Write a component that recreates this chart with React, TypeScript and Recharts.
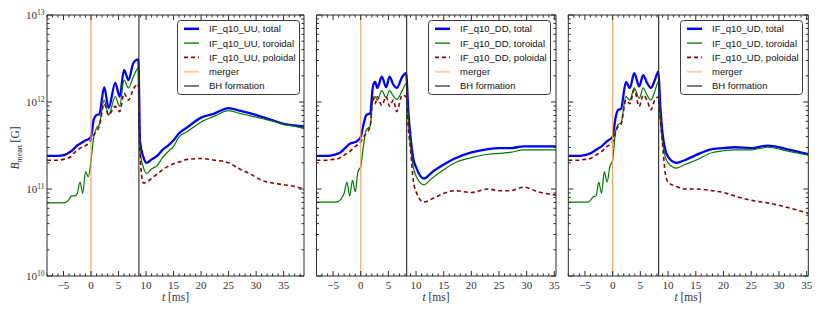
import React from 'react';
import { LineChart, Line, XAxis, YAxis, ReferenceLine, Legend } from 'recharts';

// ---------------- data (B_mean in Gauss, t in ms) ----------------
const uuT = [-8, -6, -5, -4.5, -4, -3.5, -3, -2.5, -2, -1.5, -1, -0.5, 0, 0.5, 1, 1.5, 2.4, 3.2, 4.4, 5.2, 6, 6.8, 7.7, 8.6, 8.9, 9.5, 10.1, 11, 12, 13, 14, 15, 16, 17.5, 20, 22.5, 25, 27, 29, 31, 33, 35, 37, 38.7];
const uuTotal = [2.4e11, 2.4e11, 2.45e11, 2.51e11, 2.63e11, 2.75e11, 2.95e11, 3.16e11, 3.31e11, 3.47e11, 3.63e11, 3.72e11, 3.98e11, 6.31e11, 7.08e11, 7.24e11, 1.48e12, 8.51e11, 1.66e12, 1.15e12, 2.34e12, 1.78e12, 2.82e12, 3.09e12, 3.55e11, 2.34e11, 2.0e11, 2.19e11, 2.4e11, 2.82e11, 3.16e11, 3.63e11, 4.37e11, 5.13e11, 6.61e11, 7.41e11, 8.51e11, 7.94e11, 7.41e11, 6.76e11, 6.17e11, 5.62e11, 5.37e11, 5.25e11];
const uuToroidal = [6.92e10, 6.92e10, 6.92e10, 7.08e10, 7.59e10, 8.32e10, 8.32e10, 8.91e10, 1.2e11, 8.91e10, 1.58e11, 1.38e11, 2.14e11, 3.98e11, 5.01e11, 5.5e11, 1.05e12, 7.08e11, 1.15e12, 8.91e11, 1.78e12, 1.45e12, 1.95e12, 2.45e12, 2.82e11, 1.78e11, 1.51e11, 1.7e11, 1.86e11, 2.29e11, 2.69e11, 3.09e11, 3.98e11, 4.57e11, 5.89e11, 6.92e11, 7.94e11, 7.41e11, 6.92e11, 6.46e11, 6.03e11, 5.5e11, 5.25e11, 5.01e11];
const uuPoloidal = [2.14e11, 2.14e11, 2.19e11, 2.24e11, 2.29e11, 2.4e11, 2.63e11, 2.75e11, 2.95e11, 3.02e11, 3.16e11, 3.31e11, 3.63e11, 4.17e11, 4.57e11, 5.25e11, 9.55e11, 7.08e11, 8.91e11, 7.76e11, 1.26e12, 1.05e12, 1.41e12, 1.62e12, 2.51e11, 1.17e11, 1.2e11, 1.32e11, 1.48e11, 1.66e11, 1.82e11, 1.95e11, 2.04e11, 2.19e11, 2.24e11, 2.14e11, 2.0e11, 1.7e11, 1.48e11, 1.26e11, 1.17e11, 1.12e11, 1.07e11, 1.0e11];

const ddT = [-8, -6, -5, -4.5, -4, -3.5, -3, -2.5, -2, -1.5, -1, -0.5, 0, 0.5, 1, 1.7, 2.2, 2.6, 3.0, 3.8, 4.6, 5.2, 5.9, 6.5, 7.5, 8.2, 8.6, 9, 9.5, 10, 11.4, 13, 15, 17, 20, 23, 25, 27, 29.5, 32, 35.3];
const ddTotal = [2.4e11, 2.4e11, 2.45e11, 2.51e11, 2.57e11, 2.69e11, 2.88e11, 3.09e11, 3.31e11, 3.39e11, 3.47e11, 3.63e11, 3.98e11, 5.5e11, 7.08e11, 7.41e11, 1.51e12, 1.7e12, 1.45e12, 1.95e12, 1.48e12, 1.95e12, 1.58e12, 1.45e12, 1.95e12, 2.14e12, 7.94e11, 3.98e11, 2.24e11, 1.78e11, 1.32e11, 1.58e11, 1.91e11, 2.24e11, 2.63e11, 2.88e11, 2.95e11, 2.95e11, 3.09e11, 3.09e11, 3.09e11];
const ddToroidal = [7.08e10, 7.08e10, 7.08e10, 7.08e10, 7.24e10, 7.76e10, 8.91e10, 1.2e11, 8.32e10, 1.26e11, 9.33e10, 1.58e11, 1.82e11, 3.16e11, 4.79e11, 5.25e11, 1.05e12, 1.15e12, 1.05e12, 1.35e12, 1.12e12, 1.35e12, 1.17e12, 1.07e12, 1.35e12, 1.62e12, 6.31e11, 3.16e11, 1.78e11, 1.41e11, 1.12e11, 1.35e11, 1.66e11, 2.0e11, 2.29e11, 2.51e11, 2.57e11, 2.63e11, 2.82e11, 2.82e11, 2.82e11];
const ddPoloidal = [2.14e11, 2.14e11, 2.19e11, 2.19e11, 2.24e11, 2.34e11, 2.45e11, 2.57e11, 2.69e11, 2.88e11, 3.09e11, 3.24e11, 3.47e11, 3.98e11, 4.37e11, 5.25e11, 1.15e12, 9.55e11, 1.15e12, 9.12e11, 1.15e12, 8.91e11, 1.05e12, 7.76e11, 1.2e12, 1.15e12, 5.01e11, 2.82e11, 1.26e11, 9.33e10, 7.08e10, 7.76e10, 8.91e10, 9.55e10, 9.12e10, 1.0e11, 9.55e10, 9.55e10, 1.05e11, 9.33e10, 8.51e10];

const udT = [-8, -6, -5, -4.5, -4, -3.5, -3, -2.5, -2, -1.5, -1, -0.5, 0, 0.5, 1, 1.5, 2.4, 3.1, 3.9, 4.8, 5.5, 6.2, 6.9, 7.6, 8.25, 8.6, 9, 9.5, 10, 11.5, 13, 15, 18, 20, 22, 25, 28, 32, 35.3];
const udTotal = [2.4e11, 2.4e11, 2.45e11, 2.51e11, 2.57e11, 2.69e11, 2.82e11, 2.95e11, 3.09e11, 3.31e11, 3.55e11, 3.72e11, 3.98e11, 6.46e11, 8.13e11, 8.32e11, 1.7e12, 1.45e12, 2.14e12, 1.51e12, 2.04e12, 1.66e12, 1.45e12, 1.78e12, 2.24e12, 8.91e11, 4.37e11, 2.82e11, 2.34e11, 2.0e11, 2.14e11, 2.45e11, 2.88e11, 2.95e11, 3.02e11, 2.95e11, 3.16e11, 2.82e11, 2.51e11];
const udToroidal = [7.08e10, 7.08e10, 7.08e10, 7.08e10, 7.41e10, 8.13e10, 8.32e10, 1.2e11, 8.91e10, 1.58e11, 1.2e11, 1.82e11, 2.14e11, 4.47e11, 5.5e11, 5.75e11, 1.15e12, 1.05e12, 1.45e12, 1.1e12, 1.45e12, 1.2e12, 1.05e12, 1.32e12, 1.7e12, 6.31e11, 3.55e11, 2.34e11, 2.0e11, 1.74e11, 1.91e11, 2.14e11, 2.63e11, 2.75e11, 2.82e11, 2.82e11, 3.02e11, 2.69e11, 2.45e11];
const udPoloidal = [2.14e11, 2.14e11, 2.19e11, 2.19e11, 2.24e11, 2.34e11, 2.45e11, 2.57e11, 2.69e11, 2.88e11, 3.09e11, 3.24e11, 3.47e11, 4.37e11, 5.25e11, 5.5e11, 1.05e12, 9.55e11, 1.38e12, 8.91e11, 1.2e12, 1.05e12, 8.13e11, 1.05e12, 1.15e12, 6.31e11, 3.31e11, 1.51e11, 1.2e11, 1.07e11, 1.0e11, 1.0e11, 9.55e10, 9.12e10, 8.32e10, 7.41e10, 6.92e10, 6.03e10, 5.25e10];

const MERGER_T = 0;
const BH_T_UU = 8.7;
const BH_T_DD = 8.3;
const BH_T_UD = 8.3;

const X_TICKS_UU = [-8, -7, -6, -5, -4, -3, -2, -1, 0, 1, 2, 3, 4, 5, 6, 7, 8, 9, 10, 11, 12, 13, 14, 15, 16, 17, 18, 19, 20, 21, 22, 23, 24, 25, 26, 27, 28, 29, 30, 31, 32, 33, 34, 35, 36, 37, 38];
const X_TICKS_35 = [-8, -7, -6, -5, -4, -3, -2, -1, 0, 1, 2, 3, 4, 5, 6, 7, 8, 9, 10, 11, 12, 13, 14, 15, 16, 17, 18, 19, 20, 21, 22, 23, 24, 25, 26, 27, 28, 29, 30, 31, 32, 33, 34, 35];
const Y_TICKS = [1e10, 2e10, 3e10, 4e10, 5e10, 6e10, 7e10, 8e10, 9e10, 1e11, 2e11, 3e11, 4e11, 5e11, 6e11, 7e11, 8e11, 9e11, 1e12, 2e12, 3e12, 4e12, 5e12, 6e12, 7e12, 8e12, 9e12, 1e13];
const Y_MAJOR = [1e10, 1e11, 1e12, 1e13];

const RUN_NAMES = ['IF_q10_UU', 'IF_q10_DD', 'IF_q10_UD'];
const COMPONENT_LABELS = ['total', 'toroidal', 'poloidal'];
const EVENT_LABELS = ['merger', 'BH formation'];

// ---------------- styling ----------------
const AX = '#2a2a2a';
const TXT = '#333';
const SERIF = "'Liberation Serif', 'DejaVu Serif', serif";
const SANS = "'Liberation Sans', Arial, sans-serif";
const BLUE = '#0000ff';
const GREEN = '#007a00';
const RED = '#8b0000';
const ORANGE_LINE = '#f5a05c';
const ORANGE_LEG = '#ffcfa6';
const BH = '#262626';

const fmtX = (v: number) => (v < 0 ? '\u2212' + Math.abs(v) : String(v));
const isMajorY = (v: number) => Y_MAJOR.indexOf(v) >= 0;

function XTickBottom(p: any) {
  const { x, y, payload } = p;
  const v = payload.value;
  const major = v % 5 === 0;
  return (
    <g>
      <line x1={x} x2={x} y1={y} y2={y - (major ? 5 : 2.5)} stroke={AX} strokeWidth={1} />
      {major ? (
        <text x={x} y={y + 12.5} textAnchor="middle" fontFamily={SERIF} fontSize={11} fill={TXT}>
          {fmtX(v)}
        </text>
      ) : null}
    </g>
  );
}

function XTickTop(p: any) {
  const { x, y, payload } = p;
  const major = payload.value % 5 === 0;
  return <line x1={x} x2={x} y1={y} y2={y + (major ? 5 : 2.5)} stroke={AX} strokeWidth={1} />;
}

function makeYTickLeft(showLabels: boolean) {
  return function YTickLeft(p: any) {
    const { x, y, payload } = p;
    const v = payload.value;
    const major = isMajorY(v);
    const e = Math.round(Math.log10(v));
    return (
      <g>
        <line x1={x} x2={x + (major ? 5 : 2.5)} y1={y} y2={y} stroke={AX} strokeWidth={1} />
        {showLabels && major ? (
          <text x={x - 2.5} y={y + 4} textAnchor="end" fontFamily={SERIF} fontSize={11} fill={TXT}>
            10
            <tspan dy={-4.5} fontSize={7.5}>
              {e}
            </tspan>
          </text>
        ) : null}
      </g>
    );
  };
}

function YTickRight(p: any) {
  const { x, y, payload } = p;
  const major = isMajorY(payload.value);
  return <line x1={x} x2={x - (major ? 5 : 2.5)} y1={y} y2={y} stroke={AX} strokeWidth={1} />;
}

function LegendBox({ run }: { run: string }) {
  const rows = [
    { label: `${run}, ${COMPONENT_LABELS[0]}`, color: BLUE, w: 2.5, dash: undefined as string | undefined },
    { label: `${run}, ${COMPONENT_LABELS[1]}`, color: GREEN, w: 1.3, dash: undefined },
    { label: `${run}, ${COMPONENT_LABELS[2]}`, color: RED, w: 1.6, dash: '4 3' },
    { label: EVENT_LABELS[0], color: ORANGE_LEG, w: 2, dash: undefined },
    { label: EVENT_LABELS[1], color: BH, w: 1.2, dash: undefined },
  ];
  return (
    <svg width={124} height={76} style={{ display: 'block' }}>
      <rect x={0.5} y={0.5} width={122} height={74} rx={3} ry={3} fill="#fff" stroke="#3a3a3a" strokeWidth={1} />
      {rows.map((r, i) => {
        const cy = 8.8 + i * 14.3;
        return (
          <g key={i}>
            <line x1={7} x2={22} y1={cy} y2={cy} stroke={r.color} strokeWidth={r.w} strokeDasharray={r.dash} />
            <text x={32} y={cy + 3.4} fontFamily={SANS} fontSize={9.5} fill="#111">
              {r.label}
            </text>
          </g>
        );
      })}
    </svg>
  );
}

type PanelProps = {
  left: number;
  width: number;
  plotLeft: number;
  plotRight: number;
  xMax: number;
  xTicks: number[];
  t: number[];
  total: number[];
  toroidal: number[];
  poloidal: number[];
  bh: number;
  run: string;
  showYLabels: boolean;
  legendLeft: number;
};

function Panel(pp: PanelProps) {
  const data = pp.t.map((t, i) => ({ t, total: pp.total[i], toroidal: pp.toroidal[i], poloidal: pp.poloidal[i] }));
  const leftW = pp.plotLeft - pp.left;
  const rightW = 2;
  const marginRight = pp.left + pp.width - pp.plotRight - rightW;
  const domainX: [number, number] = [-8, pp.xMax];
  const domainY: [number, number] = [1e10, 1e13];
  return (
    <div style={{ position: 'absolute', left: pp.left, top: 0, width: pp.width, height: 316 }}>
      <LineChart width={pp.width} height={316} data={data} margin={{ top: 13, right: marginRight, bottom: 20, left: 0 }}>
        <XAxis
          dataKey="t"
          type="number"
          domain={domainX}
          allowDataOverflow
          ticks={pp.xTicks}
          interval={0}
          tick={(p: any) => <XTickBottom {...p} />}
          tickLine={false}
          tickSize={0}
          tickMargin={0}
          height={20}
          axisLine={{ stroke: AX, strokeWidth: 1 }}
        />
        <XAxis
          xAxisId="top"
          orientation="top"
          dataKey="t"
          type="number"
          domain={domainX}
          allowDataOverflow
          ticks={pp.xTicks}
          interval={0}
          tick={(p: any) => <XTickTop {...p} />}
          tickLine={false}
          tickSize={0}
          tickMargin={0}
          height={2}
          axisLine={{ stroke: AX, strokeWidth: 1 }}
        />
        <YAxis
          scale="log"
          type="number"
          domain={domainY}
          allowDataOverflow
          ticks={Y_TICKS}
          interval={0}
          tick={makeYTickLeft(pp.showYLabels)}
          tickLine={false}
          tickSize={0}
          tickMargin={0}
          width={leftW}
          axisLine={{ stroke: AX, strokeWidth: 1 }}
        />
        <YAxis
          yAxisId="r"
          orientation="right"
          scale="log"
          type="number"
          domain={domainY}
          allowDataOverflow
          ticks={Y_TICKS}
          interval={0}
          tick={(p: any) => <YTickRight {...p} />}
          tickLine={false}
          tickSize={0}
          tickMargin={0}
          width={rightW}
          axisLine={{ stroke: AX, strokeWidth: 1 }}
        />
        <Line type="monotone" dataKey="total" stroke={BLUE} strokeWidth={2.3} dot={false} activeDot={false} isAnimationActive={false} />
        <Line type="monotone" dataKey="toroidal" stroke={GREEN} strokeWidth={1.2} dot={false} activeDot={false} isAnimationActive={false} />
        <Line type="monotone" dataKey="poloidal" stroke={RED} strokeWidth={1.6} strokeDasharray="4 3" dot={false} activeDot={false} isAnimationActive={false} />
        <ReferenceLine x={MERGER_T} stroke={ORANGE_LINE} strokeWidth={1.1} />
        <ReferenceLine x={pp.bh} stroke={BH} strokeWidth={1.1} />
        <Legend
          layout="vertical"
          align="center"
          verticalAlign="middle"
          content={() => <LegendBox run={pp.run} />}
          wrapperStyle={{ position: 'absolute', left: pp.legendLeft, top: 20, width: 124, height: 76, margin: 0, padding: 0 }}
        />
      </LineChart>
    </div>
  );
}

export default function App() {
  return (
    <div style={{ position: 'absolute', left: 0, top: 0, width: 822, height: 316, background: '#fff', overflow: 'hidden' }}>
      <Panel left={0} width={310} plotLeft={47} plotRight={304} xMax={38.7} xTicks={X_TICKS_UU} t={uuT} total={uuTotal} toroidal={uuToroidal} poloidal={uuPoloidal} bh={BH_T_UU} run={RUN_NAMES[0]} showYLabels={true} legendLeft={177} />
      <Panel left={270} width={290} plotLeft={316.5} plotRight={556} xMax={35.3} xTicks={X_TICKS_35} t={ddT} total={ddTotal} toroidal={ddToroidal} poloidal={ddPoloidal} bh={BH_T_DD} run={RUN_NAMES[1]} showYLabels={false} legendLeft={158.3} />
      <Panel left={520} width={302} plotLeft={568.3} plotRight={808.3} xMax={35.3} xTicks={X_TICKS_35} t={udT} total={udTotal} toroidal={udToroidal} poloidal={udPoloidal} bh={BH_T_UD} run={RUN_NAMES[2]} showYLabels={false} legendLeft={160} />
      <svg width={822} height={316} style={{ position: 'absolute', left: 0, top: 0, pointerEvents: 'none' }}>
        <text transform="rotate(-90 19 148)" x={19} y={148} textAnchor="middle" fontFamily={SERIF} fontSize={11.5} fill={TXT}>
          <tspan fontStyle="italic">B</tspan>
          <tspan fontSize={8} dy={2.5}>mean</tspan>
          <tspan dy={-2.5}> [G]</tspan>
        </text>
        {[175.5, 436, 688].map((cx, i) => (
          <text key={i} x={cx} y={301} textAnchor="middle" fontFamily={SERIF} fontSize={11.5} fill={TXT}>
            <tspan fontStyle="italic">t</tspan>
            <tspan> [ms]</tspan>
          </text>
        ))}
      </svg>
    </div>
  );
}
